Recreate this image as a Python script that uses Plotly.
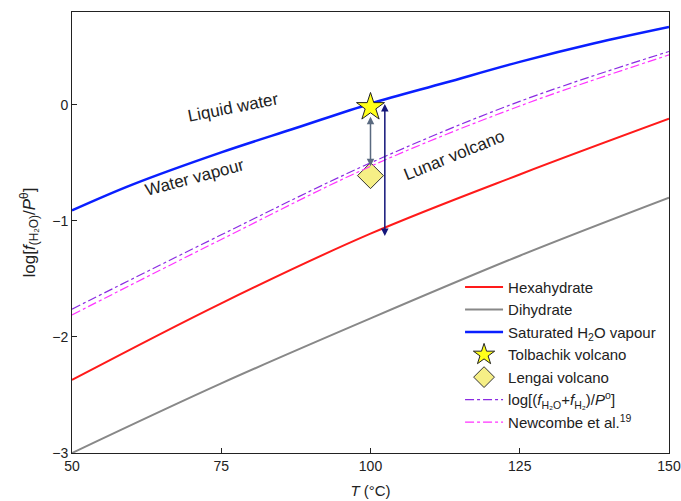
import plotly.graph_objects as go

T = [50, 75, 100, 125, 150]
T_fine = [50, 60, 75, 87.5, 100, 112.5, 125, 137.5, 150]
sat_vapour = [-0.91, -0.69, -0.41, -0.20, 0.01, 0.19, 0.37, 0.53, 0.67]
hexahydrate = [-2.37, -1.71, -1.11, -0.60, -0.12]
dihydrate = [-3.0, -2.40, -1.84, -1.30, -0.80]
log_fsum = [-1.76, -1.12, -0.50, 0.03, 0.46]
newcombe = [-1.81, -1.16, -0.53, -0.01, 0.43]

tolbachik = (100, -0.02)
lengai = (100, -0.61)
lunar_arrow_x = 102.4
lunar_top, lunar_bottom = 0.02, -1.13

FONT = "Liberation Sans, Arial, sans-serif"
TXT = "#222222"

fig = go.Figure()
fig.add_trace(go.Scatter(x=T, y=hexahydrate, mode="lines", name="Hexahydrate",
                         line=dict(color="#ff1a1a", width=2, shape="spline")))
fig.add_trace(go.Scatter(x=T, y=dihydrate, mode="lines", name="Dihydrate",
                         line=dict(color="#888888", width=2, shape="spline")))
fig.add_trace(go.Scatter(x=T_fine, y=sat_vapour, mode="lines", name="Saturated H<sub>2</sub>O vapour",
                         line=dict(color="#0a1fff", width=2.5, shape="spline")))
fig.add_trace(go.Scatter(x=[tolbachik[0]], y=[tolbachik[1]], mode="markers", name="Tolbachik volcano",
                         marker=dict(symbol="star", size=21, color="#ffff1a",
                                     line=dict(color="#222222", width=1))))
fig.add_trace(go.Scatter(x=[lengai[0]], y=[lengai[1]], mode="markers", name="Lengai volcano",
                         marker=dict(symbol="diamond", size=20, color="#f6ef86",
                                     line=dict(color="#333333", width=1))))
fig.add_trace(go.Scatter(x=T, y=log_fsum, mode="lines",
                         name="log[(<i>f</i><sub>H₂O</sub>+<i>f</i><sub>H₂</sub>)/<i>P</i><sup>o</sup>]",
                         line=dict(color="#8a2be2", width=1.2, dash="dashdot", shape="spline")))
fig.add_trace(go.Scatter(x=T, y=newcombe, mode="lines", name="Newcombe et al.<sup>19</sup>",
                         line=dict(color="#ff33ff", width=1.2, dash="dashdot", shape="spline")))

# arrows
fig.add_annotation(x=tolbachik[0], y=lengai[1] + 0.08, ax=tolbachik[0], ay=tolbachik[1] - 0.07,
                   xref="x", yref="y", axref="x", ayref="y", text="", showarrow=True,
                   arrowhead=2, startarrowhead=2, arrowside="end+start", arrowsize=1,
                   arrowwidth=1.5, arrowcolor="#5a6a80")
fig.add_annotation(x=lunar_arrow_x, y=lunar_bottom, ax=lunar_arrow_x, ay=lunar_top,
                   xref="x", yref="y", axref="x", ayref="y", text="", showarrow=True,
                   arrowhead=2, startarrowhead=2, arrowside="end+start", arrowsize=1,
                   arrowwidth=1.5, arrowcolor="#14167a")

# region labels
for txt, x, y, ang in [("Liquid water", 77.0, -0.02, -11),
                       ("Water vapour", 70.6, -0.63, -15),
                       ("Lunar volcano", 114.0, -0.44, -22)]:
    fig.add_annotation(x=x, y=y, xref="x", yref="y", text=txt, showarrow=False,
                       textangle=ang, font=dict(family=FONT, size=17, color=TXT))

fig.update_layout(
    width=681, height=501,
    margin=dict(l=72, r=12, t=12, b=48, autoexpand=False),
    plot_bgcolor="white", paper_bgcolor="white",
    font=dict(family=FONT, size=14, color=TXT),
    showlegend=True,
    legend=dict(x=0.65, y=0.413, xanchor="left", yanchor="top",
                bgcolor="rgba(0,0,0,0)", font=dict(family=FONT, size=15, color=TXT),
                tracegroupgap=0, itemwidth=38),
    xaxis=dict(range=[50, 150], tickvals=[50, 75, 100, 125, 150], automargin=False,
               ticks="inside", ticklen=5, tickcolor="#222", showgrid=False, zeroline=False,
               showline=True, linecolor="#222", linewidth=1, mirror=True,
               title=dict(text="<i>T</i> (°C)", font=dict(size=15), standoff=12)),
    yaxis=dict(range=[-3, 0.8], tickvals=[-3, -2, -1, 0], ticktext=["−3", "−2", "−1", "0"],
               automargin=False,
               ticks="inside", ticklen=5, tickcolor="#222", showgrid=False, zeroline=False,
               showline=True, linecolor="#222", linewidth=1, mirror=True,
               title=dict(text="log[<i>f</i><sub>(H₂O)</sub>/<i>P</i><sup>θ</sup>]",
                          font=dict(size=17), standoff=12)),
)

fig.write_html("out.html")
